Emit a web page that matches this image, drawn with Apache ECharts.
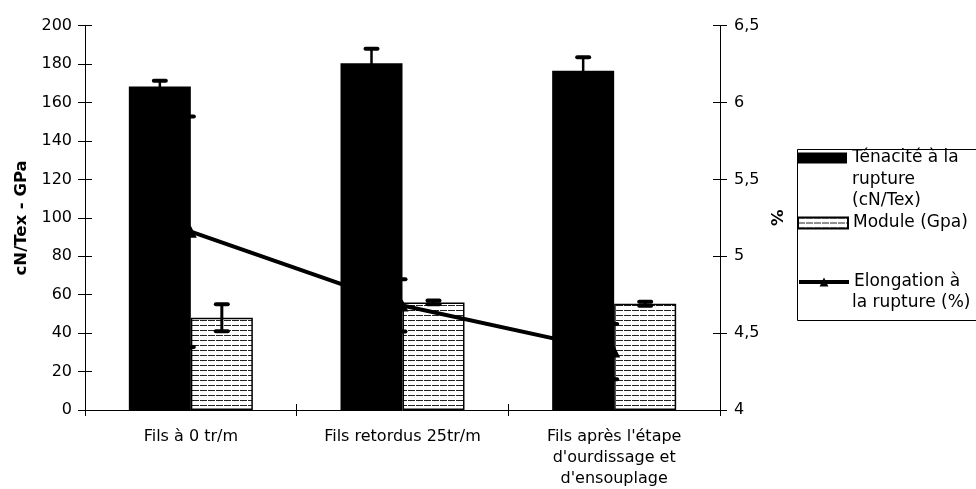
<!DOCTYPE html>
<html>
<head>
<meta charset="utf-8">
<script src="https://cdn.jsdelivr.net/npm/echarts@6/dist/echarts.min.js"></script>
<style>
  html, body { margin: 0; padding: 0; background: #fff; }
  #chart { width: 976px; height: 489px; }
</style>
</head>
<body>
<div id="chart"></div>
<script>
const categories = ['Fils à 0 tr/m', 'Fils retordus 25tr/m', "Fils après l'étape\nd'ourdissage et\nd'ensouplage"];
const tenacite = [168.3, 180.5, 176.6];
const tenaciteErr = [3, 7.5, 7];
const moduleGpa = [48, 56, 55.3];
const moduleErr = [7, 1, 1];
const elongation = [5.16, 4.68, 4.38];
const elongationErr = [0.75, 0.17, 0.18];

const FONT = '"DejaVu Sans", sans-serif';
const BAR_W = 62;

// hachures horizontales pour le module
const hatch = document.createElement('canvas');
hatch.width = 8; hatch.height = 5;
const hc = hatch.getContext('2d');
hc.fillStyle = '#fff';
hc.fillRect(0, 0, 8, 5);
hc.fillStyle = '#222';
hc.fillRect(0, 0, 7, 1);

const errRender = (offset, capL, capR, stemW) => (params, api) => {
  const i = api.value(0), v = api.value(1), e = api.value(2);
  const top = api.coord([i, v + e]);
  const bot = api.coord([i, v - e]);
  const x = top[0] + offset;
  const capStyle = { stroke: '#000', lineWidth: 4, lineCap: 'round' };
  return {
    type: 'group',
    children: [
      { type: 'line', shape: { x1: x, y1: top[1], x2: x, y2: bot[1] }, style: { stroke: '#000', lineWidth: stemW } },
      { type: 'line', shape: { x1: x - capL, y1: top[1], x2: x + capR, y2: top[1] }, style: capStyle },
      { type: 'line', shape: { x1: x - capL, y1: bot[1], x2: x + capR, y2: bot[1] }, style: capStyle }
    ]
  };
};
const toErr = (vals, errs) => vals.map((v, i) => [i, v, errs[i]]);

const yBase = {
  axisLine: { show: true, lineStyle: { color: '#000', width: 1 } },
  splitLine: { show: false },
  axisTick: { show: true, length: 7, lineStyle: { color: '#000' } }
};
const nameStyle = { fontFamily: FONT, fontSize: 16.5, fontWeight: 'bold', color: '#000' };

const legendBase = {
  orient: 'vertical', padding: 0, itemWidth: 50, itemHeight: 11, itemGap: 0,
  textStyle: { fontFamily: FONT, fontSize: 17, color: '#000', lineHeight: 21 },
  selectedMode: false
};
const legText = (t, y) => ({ type: 'text', x: 852, y: y,
  style: { text: t, font: '17px ' + FONT, fill: '#000', verticalAlign: 'middle' } });

const chart = echarts.init(document.getElementById('chart'));
chart.setOption({
  animation: false,
  backgroundColor: '#fff',
  grid: { left: 85, right: 256, top: 25.7, bottom: 78.3 },
  xAxis: [
    {
      type: 'category', data: categories,
      axisLine: { lineStyle: { color: '#000' } },
      axisTick: { show: true, length: 6, lineStyle: { color: '#000' } },
      axisLabel: { color: '#000', fontFamily: FONT, fontSize: 16, lineHeight: 21, margin: 16 }
    },
    {
      type: 'category', data: categories, position: 'bottom',
      axisLine: { show: false },
      axisTick: { show: true, inside: true, length: 6, lineStyle: { color: '#000' } },
      axisLabel: { show: false }
    }
  ],
  yAxis: [
    Object.assign({}, yBase, {
      type: 'value', min: 0, max: 200, interval: 20, position: 'left',
      name: 'cN/Tex - GPa', nameLocation: 'middle', nameGap: 49, nameTextStyle: nameStyle,
      axisLabel: { color: '#000', fontFamily: FONT, fontSize: 16, margin: 13 }
    }),
    Object.assign({}, yBase, {
      type: 'value', min: 4, max: 6.5, interval: 0.5, position: 'right',
      name: '%', nameLocation: 'middle', nameGap: 50, nameRotate: 90, nameTextStyle: nameStyle,
      axisLabel: { color: '#000', fontFamily: FONT, fontSize: 16, margin: 14,
        formatter: v => String(v).replace('.', ',') }
    }),
    Object.assign({}, yBase, {
      type: 'value', min: 0, max: 200, interval: 20, position: 'left',
      axisTick: { show: true, inside: true, length: 7, lineStyle: { color: '#000' } },
      axisLabel: { show: false }
    }),
    Object.assign({}, yBase, {
      type: 'value', min: 4, max: 6.5, interval: 0.5, position: 'right',
      axisTick: { show: true, inside: true, length: 7, lineStyle: { color: '#000' } },
      axisLabel: { show: false }
    })
  ],
  legend: [
    Object.assign({}, legendBase, { left: 797, top: 147.5, icon: 'rect',
      data: ['Ténacité à la rupture (cN/Tex)'], formatter: () => 'Ténacité à la' }),
    Object.assign({}, legendBase, { left: 797, top: 212.5, icon: 'rect', data: ['Module (Gpa)'] }),
    Object.assign({}, legendBase, { left: 797, top: 271.5, data: ['Elongation à la rupture (%)'],
      formatter: () => 'Elongation à', lineStyle: { width: 4 } })
  ],
  graphic: [
    { type: 'rect', left: 795, top: 147, shape: { width: 200, height: 171 },
      style: { fill: 'none', stroke: '#000', lineWidth: 1 } },
    legText('rupture', 180),
    legText('(cN/Tex)', 201),
    legText('la rupture (%)', 303)
  ],
  series: [
    {
      name: 'Ténacité à la rupture (cN/Tex)', type: 'bar', data: tenacite,
      barWidth: BAR_W, barGap: '0%',
      itemStyle: { color: '#000' }
    },
    {
      name: 'Module (Gpa)', type: 'bar', data: moduleGpa,
      barWidth: BAR_W, barGap: '0%',
      itemStyle: { color: { image: hatch, repeat: 'repeat' }, borderColor: '#000', borderWidth: 1.5 }
    },
    {
      name: 'Elongation à la rupture (%)', type: 'line', yAxisIndex: 1, data: elongation,
      symbol: 'triangle', symbolSize: 12,
      lineStyle: { color: '#000', width: 4 }, itemStyle: { color: '#000' }, z: 5
    },
    {
      type: 'custom', renderItem: errRender(-BAR_W / 2, 6, 6, 2.5), data: toErr(tenacite, tenaciteErr),
      encode: { x: 0, y: 1 }, z: 6
    },
    {
      type: 'custom', renderItem: errRender(BAR_W / 2, 6, 6, 3), data: toErr(moduleGpa, moduleErr),
      encode: { x: 0, y: 1 }, z: 6
    },
    {
      type: 'custom', yAxisIndex: 1, renderItem: errRender(-3, 3, 6, 2), data: toErr(elongation, elongationErr),
      encode: { x: 0, y: 1 }, z: 6
    }
  ]
});
</script>
</body>
</html>
